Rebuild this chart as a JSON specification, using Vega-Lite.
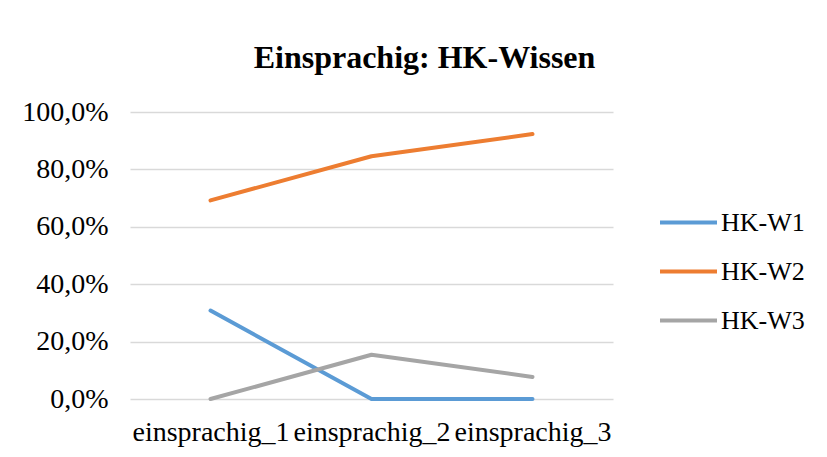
{
  "$schema": "https://vega.github.io/schema/vega-lite/v6.json",
  "width": 483,
  "height": 287,
  "autosize": "none",
  "padding": {"left": 130, "top": 112, "right": 215, "bottom": 58},
  "background": "white",
  "title": {
    "text": "Einsprachig: HK-Wissen",
    "font": "Liberation Serif",
    "fontSize": 32,
    "fontWeight": "bold",
    "color": "#000000",
    "anchor": "middle",
    "dx": 53,
    "offset": 23
  },
  "config": {
    "locale": {"number": {"decimal": ",", "thousands": ".", "grouping": [3], "currency": ["", " €"]}},
    "view": {"stroke": null},
    "font": "Liberation Serif"
  },
  "data": {
    "values": [
      {"kat": "einsprachig_1", "serie": "HK-W1", "wert": 0.308},
      {"kat": "einsprachig_2", "serie": "HK-W1", "wert": 0.0},
      {"kat": "einsprachig_3", "serie": "HK-W1", "wert": 0.0},
      {"kat": "einsprachig_1", "serie": "HK-W2", "wert": 0.692},
      {"kat": "einsprachig_2", "serie": "HK-W2", "wert": 0.846},
      {"kat": "einsprachig_3", "serie": "HK-W2", "wert": 0.923},
      {"kat": "einsprachig_1", "serie": "HK-W3", "wert": 0.0},
      {"kat": "einsprachig_2", "serie": "HK-W3", "wert": 0.154},
      {"kat": "einsprachig_3", "serie": "HK-W3", "wert": 0.077}
    ]
  },
  "mark": {"type": "line", "strokeWidth": 4, "strokeCap": "round", "strokeJoin": "round"},
  "encoding": {
    "x": {
      "field": "kat",
      "type": "nominal",
      "sort": null,
      "scale": {"type": "point", "padding": 0.5},
      "axis": {
        "title": null,
        "labelAngle": 0,
        "labelFont": "Liberation Serif",
        "labelFontSize": 28,
        "labelColor": "#000000",
        "labelPadding": 19,
        "ticks": false,
        "domain": false,
        "grid": false
      }
    },
    "y": {
      "field": "wert",
      "type": "quantitative",
      "scale": {"domain": [0, 1], "nice": false},
      "axis": {
        "title": null,
        "format": ".1%",
        "values": [0, 0.2, 0.4, 0.6, 0.8, 1.0],
        "labelFont": "Liberation Serif",
        "labelFontSize": 28,
        "labelColor": "#000000",
        "labelPadding": 22,
        "ticks": false,
        "domain": false,
        "grid": true,
        "gridColor": "#D9D9D9",
        "gridWidth": 1.5
      }
    },
    "color": {
      "field": "serie",
      "type": "nominal",
      "scale": {"domain": ["HK-W1", "HK-W2", "HK-W3"], "range": ["#5B9BD5", "#ED7D31", "#A5A5A5"]},
      "legend": {
        "title": null,
        "orient": "none",
        "legendX": 528,
        "legendY": 80,
        "symbolType": "stroke",
        "symbolSize": 3249,
        "symbolStrokeWidth": 4,
        "labelFont": "Liberation Serif",
        "labelFontSize": 26,
        "labelColor": "#000000",
        "labelOffset": 2,
        "rowPadding": 5
      }
    }
  }
}
